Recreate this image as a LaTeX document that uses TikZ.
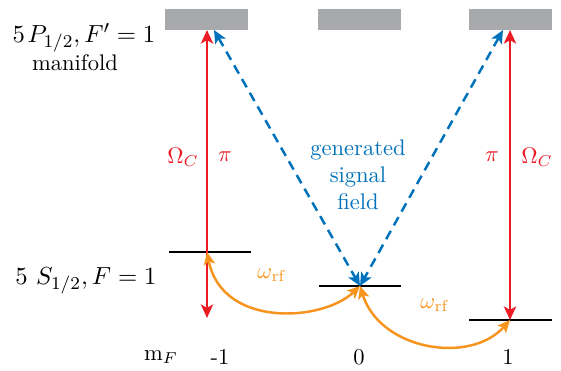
\documentclass[tikz,border=0pt]{standalone}
\usetikzlibrary{arrows.meta}
\definecolor{myred}{RGB}{237,28,36}
\definecolor{myblue}{RGB}{0,114,188}
\definecolor{myorange}{RGB}{247,148,29}
\definecolor{mygray}{RGB}{167,169,172}
\begin{document}
\begin{tikzpicture}[x=0.4435pt,y=-0.4435pt,
  bar/.style={fill=mygray,draw=none,minimum width=36.8pt,minimum height=9.3pt,inner sep=0pt},
  level/.style={line width=1.2pt,black},
  redarr/.style={myred,line width=1.3pt,{Stealth[length=6pt,width=5.4pt,inset=1.5pt]}-{Stealth[length=6pt,width=5.4pt,inset=1.5pt]}},
  bluearr/.style={myblue,line width=1.1pt,dash pattern=on 4.2pt off 2.8pt,{Stealth[length=5.8pt,width=5.2pt,inset=1.4pt]}-{Stealth[length=5.8pt,width=5.2pt,inset=1.4pt]}},
  orarr/.style={myorange,line width=1.1pt,{Stealth[length=5.6pt,width=5pt,inset=1.3pt]}-{Stealth[length=5.6pt,width=5pt,inset=1.3pt]}},
  lbl/.style={inner sep=0pt}]
\useasboundingbox (0,0) rectangle (561,370);
% excited manifold bars
\node[bar] (pL) at (206.5,19.5) {};
\node[bar] (pM) at (359.5,19.5) {};
\node[bar] (pR) at (510.5,19.5) {};
% ground levels
\coordinate (gLa) at (169,252); \coordinate (gLb) at (251,252);
\coordinate (gMa) at (319,286); \coordinate (gMb) at (401,286);
\coordinate (gRa) at (469,320); \coordinate (gRb) at (552,320);
\draw[level] (gLa) -- (gLb);
\draw[level] (gMa) -- (gMb);
\draw[level] (gRa) -- (gRb);
% arrow end points
\coordinate (gL) at (207,252);
\coordinate (gM) at (360,286);
\coordinate (gR) at (510,320);
\coordinate (tL) at (207,30);
\coordinate (tR) at (510,30);
\coordinate (bL) at (207,318);
\coordinate (sL) at (214,30);
\coordinate (sR) at (503,30);
% red control arrows
\draw[redarr] (bL) -- (tL);
\draw[redarr] (gR) -- (tR);
% blue dashed signal
\draw[bluearr] (sL) -- (gM);
\draw[bluearr] (sR) -- (gM);
% orange rf couplings
\draw[orarr] (gL) .. controls (222,328) and (322,322) .. (gM);
\draw[orarr] (gM) .. controls (380,350) and (470,365) .. (gR);
% labels
\node[lbl,font=\fontsize{11.3}{13}\selectfont] (lp) at (84,38) {$5\mkern2mu P_{1/2}, F'=1$};
\node[lbl] (lman) at (75,63) {manifold};
\node[lbl,font=\fontsize{11.2}{13}\selectfont] (ls) at (86,281) {$5\ S_{1/2}, F=1$};
\node[lbl,text=myred] (oc1) at (183,157) {$\Omega_C$};
\node[lbl,text=myred] (pi1) at (225,157) {$\pi$};
\node[lbl,text=myred] (pi2) at (492,157) {$\pi$};
\node[lbl,text=myred] (oc2) at (537,157) {$\Omega_C$};
\node[lbl,text=myblue,align=center,font=\fontsize{10}{12}\selectfont] (sig) at (358,175) {generated\\signal\\field};
\node[lbl,text=myorange] (w1) at (272,275) {$\omega_{\mathrm{rf}}$};
\node[lbl,text=myorange] (w2) at (435,305) {$\omega_{\mathrm{rf}}$};
\node[lbl] (mf) at (161,357) {$\mathrm{m}_F$};
\node[lbl] (m1) at (220,357) {-1};
\node[lbl] (m0) at (359,357) {0};
\node[lbl] (mp) at (508,357) {1};
\end{tikzpicture}
\end{document}
